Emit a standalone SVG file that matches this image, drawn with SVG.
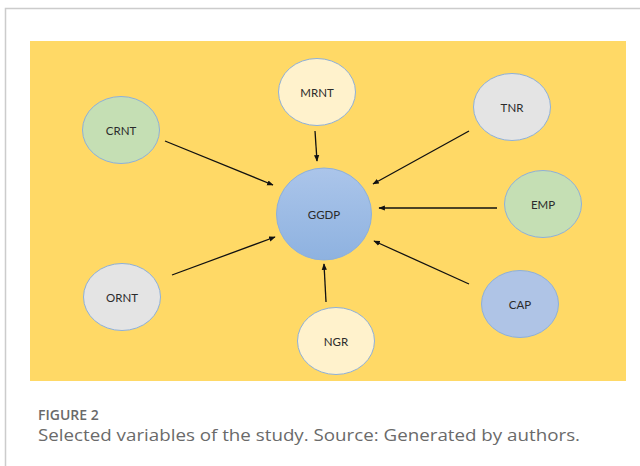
<svg xmlns="http://www.w3.org/2000/svg" width="640" height="466" viewBox="0 0 640 466">
<defs>
<style>
.n{stroke:#8DB0DA;stroke-width:1}
.t{font-family:Lato,"Open Sans","Liberation Sans",sans-serif;font-size:11.5px;fill:#2b2b2b;text-anchor:middle;dominant-baseline:central}
.c line{stroke:#111;stroke-width:1.3;marker-end:url(#ah)}
.cap{font-family:"Open Sans","Liberation Sans",sans-serif;fill:#6a6a6a}
</style>
<marker id="ah" viewBox="0 0 10 10" refX="9" refY="5" markerWidth="5" markerHeight="5" orient="auto" markerUnits="strokeWidth">
<path d="M0,1 L10,5 L0,9 z" fill="#111"/>
</marker>
<linearGradient id="g" x1="0" y1="0" x2="0" y2="1">
<stop offset="0" stop-color="#ABC5EA"/>
<stop offset="1" stop-color="#8EB2E0"/>
</linearGradient>
</defs>
<rect width="640" height="466" fill="#fff"/>
<path d="M5.5,466 V8.5 H640" fill="none" stroke="#ccc" stroke-width="1.5"/>
<rect x="30" y="41" width="596" height="340" fill="#FFD966"/>
<g class="c">
<line x1="165" y1="141" x2="273" y2="185"/>
<line x1="315" y1="131" x2="317" y2="161"/>
<line x1="469" y1="131" x2="373" y2="184"/>
<line x1="497" y1="208" x2="379" y2="208"/>
<line x1="172" y1="275" x2="275" y2="237"/>
<line x1="326" y1="302" x2="324" y2="264"/>
<line x1="469" y1="284" x2="374" y2="241"/>
</g>
<g id="GGDP"><ellipse class="n" cx="324" cy="214" rx="47.5" ry="46" fill="url(#g)"/><text class="t" x="324" y="214">GGDP</text></g>
<g id="MRNT"><ellipse class="n" cx="317" cy="92" rx="38.5" ry="33.5" fill="#FFF2CC"/><text class="t" x="317" y="92">MRNT</text></g>
<g id="TNR"><ellipse class="n" cx="512" cy="107" rx="38.5" ry="33.5" fill="#E4E4E4"/><text class="t" x="512" y="107">TNR</text></g>
<g id="CRNT"><ellipse class="n" cx="121" cy="130" rx="38.5" ry="33.5" fill="#C5DFB4"/><text class="t" x="121" y="130">CRNT</text></g>
<g id="EMP"><ellipse class="n" cx="543" cy="204" rx="38.5" ry="33.5" fill="#C5DFB4"/><text class="t" x="543" y="204">EMP</text></g>
<g id="ORNT"><ellipse class="n" cx="122" cy="297" rx="38.5" ry="33.5" fill="#E4E4E4"/><text class="t" x="122" y="297">ORNT</text></g>
<g id="NGR"><ellipse class="n" cx="336" cy="341" rx="38.5" ry="33.5" fill="#FFF2CC"/><text class="t" x="336" y="341">NGR</text></g>
<g id="CAP"><ellipse class="n" cx="520" cy="304" rx="38.5" ry="33.5" fill="#AFC4E6"/><text class="t" x="520" y="304">CAP</text></g>
<text class="cap" x="38" y="419.5" font-size="14" font-weight="600">FIGURE 2</text>
<text class="cap" x="38" y="440.5" font-size="17" textLength="542" lengthAdjust="spacingAndGlyphs">Selected variables of the study. Source: Generated by authors.</text>
</svg>
